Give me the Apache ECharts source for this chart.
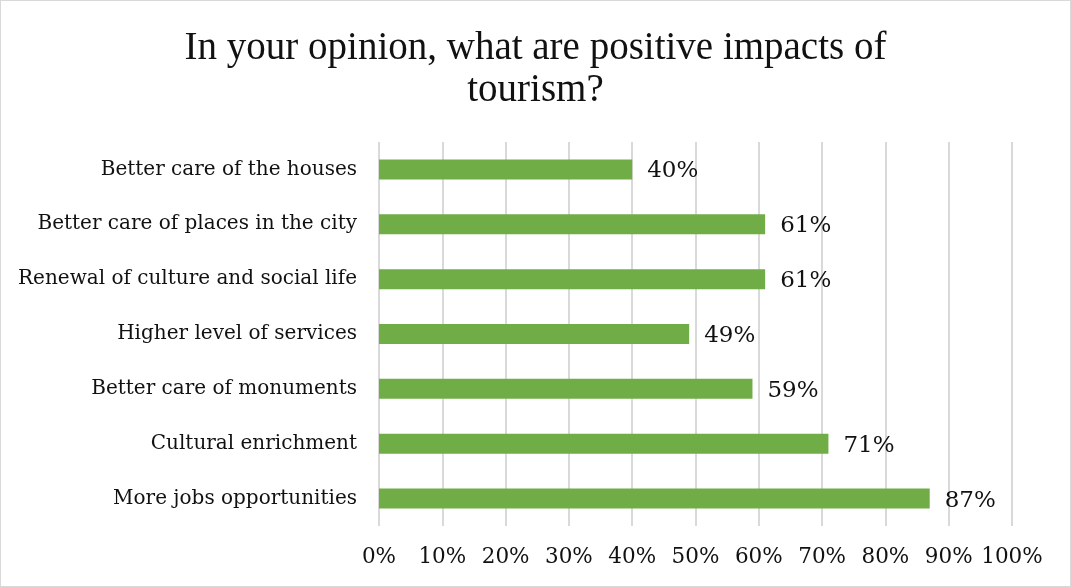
<!DOCTYPE html>
<html>
<head>
<meta charset="utf-8">
<script src="https://cdn.jsdelivr.net/npm/echarts@6/dist/echarts.min.js"></script>
<style>
  html, body { margin: 0; padding: 0; background: #fff; }
  #chart { width: 1071px; height: 587px; box-sizing: border-box; border: 1px solid #d9d9d9; }
</style>
</head>
<body>
<div id="chart"></div>
<script>
// Survey answers, listed bottom-to-top as the category axis draws them
const categories = [
  'More jobs opportunities',
  'Cultural enrichment',
  'Better care of monuments',
  'Higher level of services',
  'Renewal of culture and social life',
  'Better care of places in the city',
  'Better care of the houses'
];
const shares = [87, 71, 59, 49, 61, 61, 40];
const tickValues = [0, 10, 20, 30, 40, 50, 60, 70, 80, 90, 100];

const titleFont = '"Liberation Serif", "DejaVu Serif", serif';
const labelFont = '"DejaVu Serif", "Liberation Serif", serif';
const chart = echarts.init(document.getElementById('chart'), null, { renderer: 'canvas' });

chart.setOption({
  animation: false,
  title: {
    text: 'In your opinion, what are positive impacts of\ntourism?',
    left: 'center',
    top: 22,
    textStyle: { fontFamily: titleFont, fontSize: 39, fontWeight: 'normal', color: '#111', lineHeight: 42 }
  },
  grid: { left: 378, right: 58, top: 141, bottom: 60, containLabel: false },
  xAxis: {
    type: 'value',
    min: 0,
    max: 100,
    interval: 10,
    axisLine: { show: false },
    axisTick: { show: false },
    splitLine: { show: true, lineStyle: { color: '#d9d9d9', width: 2 } },
    axisLabel: {
      margin: 20,
      fontFamily: labelFont,
      fontSize: 21.5,
      color: '#111',
      formatter: v => tickValues.includes(v) ? v + '%' : ''
    }
  },
  yAxis: {
    type: 'category',
    data: categories,
    axisLine: { show: false },
    axisTick: { show: false },
    axisLabel: { margin: 22, fontFamily: labelFont, fontSize: 20, color: '#111' }
  },
  series: [{
    type: 'bar',
    data: shares,
    barWidth: 20,
    itemStyle: { color: '#70ad47' },
    label: {
      show: true,
      position: 'right',
      distance: 15,
      offset: [0, 2],
      fontFamily: labelFont,
      fontSize: 23,
      color: '#111',
      formatter: p => p.value + '%'
    }
  }]
});
</script>
</body>
</html>
